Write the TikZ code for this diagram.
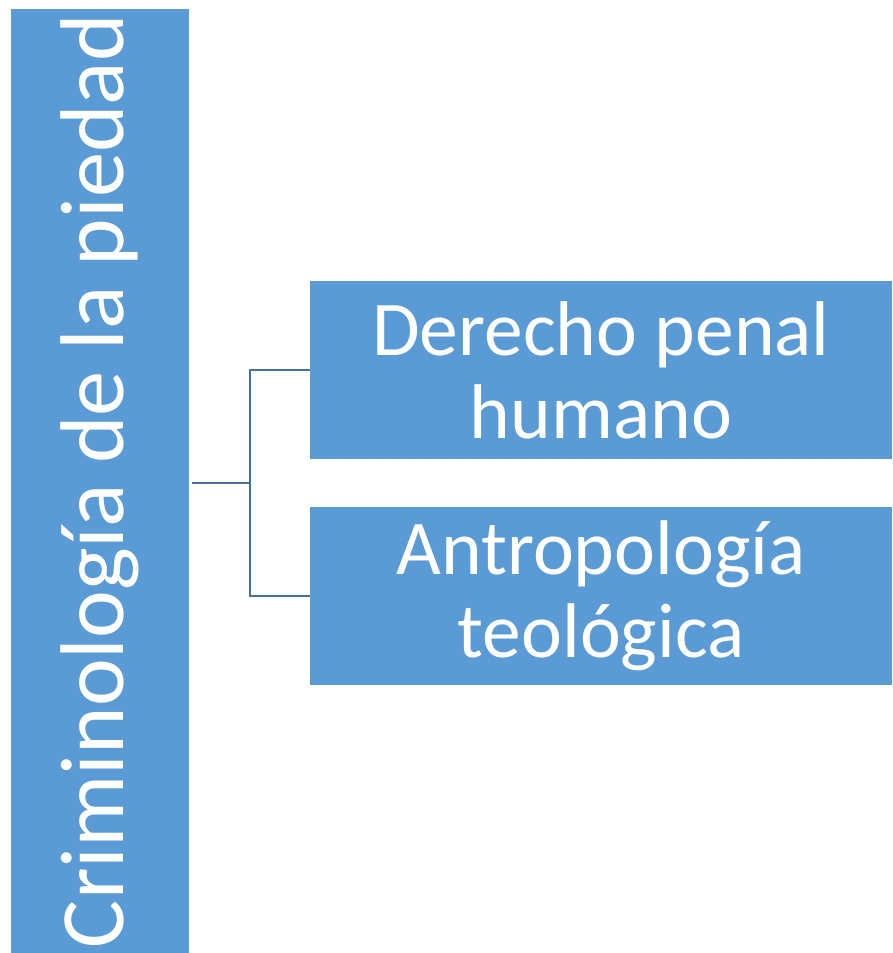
\documentclass[tikz,border=0pt]{standalone}
\usepackage{fontspec}
\setmainfont{Carlito}
\definecolor{boxblue}{HTML}{5B9BD5}
\definecolor{lineblue}{HTML}{41719C}

\begin{document}
\begin{tikzpicture}[x = 1pt, y = -1pt]
	\tikzstyle{rootStyle} = [fill = boxblue, text = white, inner sep = 0pt, rotate = 90, minimum width = 944pt, minimum height = 178pt, font = \fontsize{90.5}{94}\selectfont]
	\tikzstyle{leafStyle} = [fill = boxblue, text = white, inner sep = 0pt, minimum width = 582pt, minimum height = 178pt, align = center, font = \fontsize{77.5}{83}\selectfont]
	\tikzstyle{linkStyle} = [draw = lineblue, line width = 2.6pt]
	\useasboundingbox (0,0) rectangle (892,953);
	\node[rootStyle] (root) at (100,481) {Criminología de la piedad};
	\node[leafStyle] (derecho) at (601,370) {Derecho penal\\humano};
	\node[leafStyle] (antropologia) at (601,596) {Antropología\\teológica};
	\coordinate (fork) at (250,483);
	\draw[linkStyle] ([xshift = 3pt]root.south |- fork) -- (fork);
	\draw[linkStyle] (derecho.west) -- ++(-60,0) |- (antropologia.west);
\end{tikzpicture}
\end{document}
